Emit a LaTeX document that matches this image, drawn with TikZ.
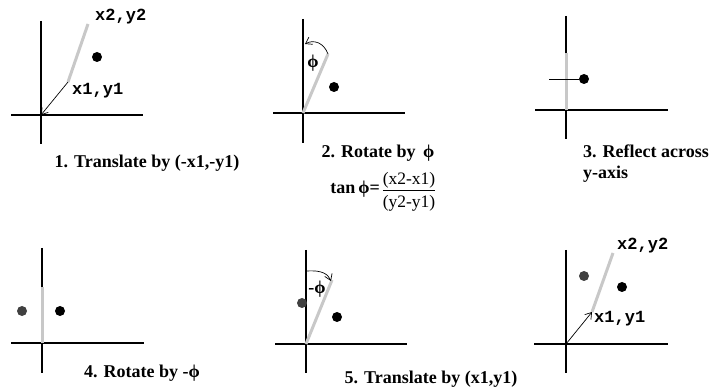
\documentclass[tikz,border=0pt]{standalone}
\usepackage{fontspec}
\setmainfont{Liberation Serif}
\setmonofont{Liberation Mono}
\usetikzlibrary{arrows.meta}
\definecolor{segray}{RGB}{200,200,200}
\definecolor{dotgray}{RGB}{64,64,64}
\newcommand{\myphi}{ϕ}
\begin{document}
\begin{tikzpicture}[x=1pt,y=-1pt,
  axis/.style={line width=2pt},
  seg/.style={line width=3pt,color=segray},
  thinline/.style={line width=0.7pt},
  arr/.style={thinline,-{Straight Barb[length=6pt,width=8pt]}},
  dot/.style={circle,fill=black,inner sep=0pt,minimum size=10pt},
  gdot/.style={dot,fill=dotgray},
  coordlabel/.style={font=\ttfamily\bfseries\fontsize{17}{19}\selectfont,inner sep=0pt,anchor=west},
  captext/.style={font=\bfseries\fontsize{18}{21}\selectfont,inner sep=0pt},
  philabel/.style={font=\bfseries\fontsize{18}{21}\selectfont,inner sep=0pt},
  frac/.style={font=\fontsize{17.5}{21}\selectfont,inner sep=0pt}]
\useasboundingbox (0,0) rectangle (712,387);
% ---------- panel 1
\draw[axis] (41,21) -- (41,144);
\draw[axis] (11,115) -- (143,115);
\coordinate (o1) at (41,115);
\coordinate (p1a) at (68,82);
\coordinate (p1b) at (88,24);
\draw[seg] (p1a) -- (p1b);
\draw[arr] (p1a) -- (o1);
\node[dot] (d1) at (97,57) {};
\node[coordlabel] (l1a) at (95,17) {x2,y2};
\node[coordlabel] (l1b) at (72,91) {x1,y1};
\node[captext] (c1) at (147,163) {1. Translate by (-x1,-y1)};
% ---------- panel 2
\draw[axis] (303,19) -- (303,143);
\draw[axis] (273,113) -- (405,113);
\coordinate (o2) at (303,113);
\coordinate (p2) at (328,54);
\coordinate (a2) at (305,44);
\draw[seg] (o2) -- (p2);
\draw[arr] (p2) .. controls (324,43) and (314,39) .. (a2);
\node[philabel] (f2) at (313,63) {\myphi};
\node[dot] (d2) at (334,87) {};
\node[captext] (c2) at (378,153) {2. Rotate by\, \myphi};
\node[captext,anchor=east] (t2) at (380,189) {tan\,\myphi=};
\node[frac] (q2) at (409,192) {\renewcommand{\arraystretch}{0.95}\begin{tabular}{@{}c@{}}(x2-x1)\\[-1pt]\hline\rule{0pt}{17pt}(y2-y1)\end{tabular}};
% ---------- panel 3
\draw[axis] (566,16) -- (566,139);
\draw[axis] (535,110) -- (668,110);
\coordinate (o3) at (566,110);
\coordinate (p3) at (566,53);
\draw[seg] (o3) -- (p3);
\coordinate (s3) at (549,79);
\node[dot] (d3) at (584,79) {};
\draw[thinline] (s3) -- (d3);
\node[captext,anchor=west,align=left] (c3) at (583,164) {3. Reflect across\\y-axis};
% ---------- panel 4
\draw[axis] (42,248) -- (42,373);
\draw[axis] (11,343) -- (144,343);
\coordinate (o4) at (42,343);
\coordinate (p4) at (42,287);
\draw[seg] (o4) -- (p4);
\node[gdot] (g4) at (22,311) {};
\node[dot] (d4) at (60,311) {};
\node[captext] (c4) at (142,373) {4. Rotate by -\myphi};
% ---------- panel 5
\draw[axis] (306,250) -- (306,373);
\draw[axis] (275,344) -- (407,344);
\coordinate (o5) at (306,344);
\coordinate (p5) at (332,280);
\coordinate (a5) at (307,271);
\draw[seg] (o5) -- (p5);
\draw[arr] (a5) .. controls (322,270) and (328,274) .. (331,281);
\node[philabel] (f5) at (317,289) {-\myphi};
\node[gdot] (g5) at (302,303) {};
\node[dot] (d5) at (337,317) {};
\node[captext] (c5) at (431,379) {5. Translate by (x1,y1)};
% ---------- panel 6
\draw[axis] (566,250) -- (566,373);
\draw[axis] (534,344) -- (668,344);
\coordinate (o6) at (566,344);
\coordinate (p6a) at (592,312);
\coordinate (p6b) at (613,253);
\draw[seg] (p6a) -- (p6b);
\draw[arr] (o6) -- (p6a);
\node[gdot] (g6) at (584,276) {};
\node[dot] (d6) at (622,287) {};
\node[coordlabel] (l6a) at (617,246) {x2,y2};
\node[coordlabel] (l6b) at (594,319) {x1,y1};
\end{tikzpicture}
\end{document}
